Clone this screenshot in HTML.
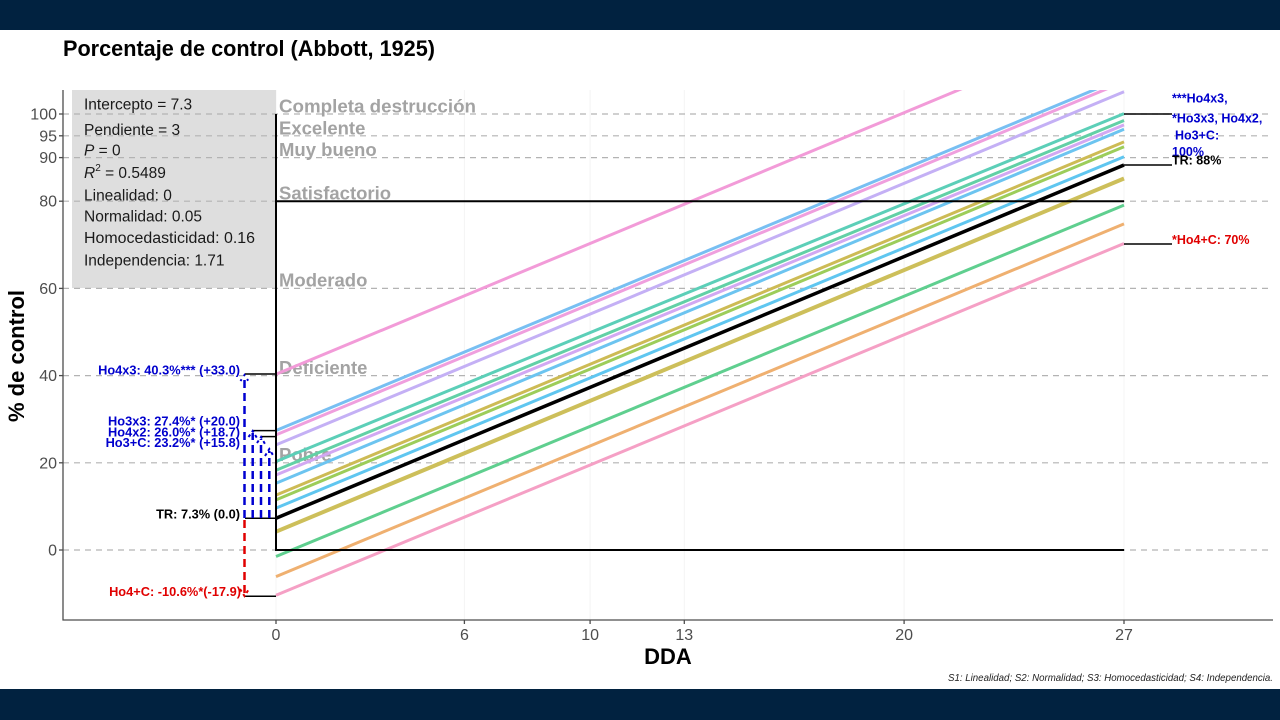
<!DOCTYPE html>
<html><head><meta charset="utf-8"><style>
html,body{margin:0;padding:0;background:#fff;}
svg{display:block;}
text{font-family:"Liberation Sans",Arial,sans-serif;}
</style></head><body>
<svg width="1280" height="720" viewBox="0 0 1280 720" xmlns="http://www.w3.org/2000/svg">
<defs><clipPath id="pc"><rect x="63" y="90" width="1210" height="530"/></clipPath></defs>
<rect x="0" y="0" width="1280" height="720" fill="#fff"/>
<rect x="0" y="0" width="1280" height="30" fill="#012240"/>
<rect x="0" y="689" width="1280" height="31" fill="#012240"/>

<text x="63" y="56" font-size="22.5" font-weight="bold" fill="#000" textLength="372" lengthAdjust="spacingAndGlyphs">Porcentaje de control (Abbott, 1925)</text>

<!-- faint vertical grid -->
<g stroke="#f4f4f4" stroke-width="1">
<line x1="276" y1="90" x2="276" y2="620"/><line x1="464.4" y1="90" x2="464.4" y2="620"/>
<line x1="590.1" y1="90" x2="590.1" y2="620"/><line x1="684.3" y1="90" x2="684.3" y2="620"/>
<line x1="904.1" y1="90" x2="904.1" y2="620"/><line x1="1124" y1="90" x2="1124" y2="620"/>
</g>

<!-- info box -->
<rect x="72" y="90" width="204" height="198" fill="#dedede"/>

<!-- dashed h lines -->
<g stroke="#b3b3b3" stroke-width="1.2" stroke-dasharray="6,5">
<line x1="63" y1="114" x2="1273" y2="114"/>
<line x1="63" y1="135.8" x2="1273" y2="135.8"/>
<line x1="63" y1="157.6" x2="1273" y2="157.6"/>
<line x1="63" y1="201.2" x2="1273" y2="201.2"/>
<line x1="63" y1="288.4" x2="1273" y2="288.4"/>
<line x1="63" y1="375.6" x2="1273" y2="375.6"/>
<line x1="63" y1="462.8" x2="1273" y2="462.8"/>
<line x1="63" y1="550" x2="1273" y2="550"/>
</g>

<!-- info text -->
<g font-size="15.5" fill="#1a1a1a">
<text x="84" y="109.5">Intercepto = 7.3</text>
<text x="84" y="135">Pendiente = 3</text>
<text x="84" y="155.5"><tspan font-style="italic">P</tspan> = 0</text>
<text x="84" y="178"><tspan font-style="italic">R</tspan><tspan font-size="10" dy="-7">2</tspan><tspan dy="7"> = 0.5489</tspan></text>
<text x="84" y="200.5">Linealidad: 0</text>
<text x="84" y="221.5">Normalidad: 0.05</text>
<text x="84" y="243" textLength="171" lengthAdjust="spacingAndGlyphs">Homocedasticidad: 0.16</text>
<text x="84" y="265.5">Independencia: 1.71</text>
</g>

<!-- category labels -->
<g font-size="18.5" font-weight="bold" fill="#a3a3a3">
<text x="279" y="112.5" textLength="197" lengthAdjust="spacingAndGlyphs">Completa destrucción</text>
<text x="279" y="134.3">Excelente</text>
<text x="279" y="155.8">Muy bueno</text>
<text x="279" y="199.4">Satisfactorio</text>
<text x="279" y="286.6">Moderado</text>
<text x="279" y="373.8">Deficiente</text>
<text x="279" y="461">Pobre</text>
</g>

<!-- series lines -->
<g clip-path="url(#pc)" stroke-width="3" fill="none" stroke-linecap="butt">
<line x1="276" y1="374.3" x2="1124" y2="21.1" stroke="#f29bd8"/>
<line x1="276" y1="430.5" x2="1124" y2="77.4" stroke="#78bff2"/>
<line x1="276" y1="434.9" x2="1124" y2="81.7" stroke="#ef9fde"/>
<line x1="276" y1="444.9" x2="1124" y2="91.8" stroke="#c4b0f5"/>
<line x1="276" y1="461.5" x2="1124" y2="113.6" stroke="#5ccfb8"/>
<line x1="276" y1="470.2" x2="1124" y2="120.5" stroke="#62d0a6"/>
<line x1="276" y1="475.0" x2="1124" y2="124.9" stroke="#d2a8f2"/>
<line x1="276" y1="483.3" x2="1124" y2="129.3" stroke="#6cc4f0"/>
<line x1="276" y1="495.1" x2="1124" y2="141.9" stroke="#cdbb55"/>
<line x1="276" y1="499.9" x2="1124" y2="146.7" stroke="#9ccd5a"/>
<line x1="276" y1="508.1" x2="1124" y2="156.7" stroke="#5fc6f0"/>
<line x1="276" y1="531.7" x2="1124" y2="178.5" stroke="#cdbf5a" stroke-width="4"/>
<line x1="276" y1="556.5" x2="1124" y2="205.1" stroke="#5fcf8f"/>
<line x1="276" y1="576.6" x2="1124" y2="223.9" stroke="#efb070"/>
<line x1="276" y1="595.3" x2="1124" y2="243.5" stroke="#f5a0c5"/>
<line x1="276" y1="518.2" x2="1124" y2="165.0" stroke="#000" stroke-width="3.5"/>
</g>

<!-- black structure lines -->
<g stroke="#000" stroke-width="2" fill="none">
<line x1="276" y1="114" x2="276" y2="550"/>
<line x1="276" y1="201.2" x2="1124" y2="201.2"/>
<line x1="275" y1="550" x2="1124" y2="550"/>
</g>
<g stroke="#000" stroke-width="1.5" fill="none">
<line x1="1124" y1="114" x2="1172" y2="114"/>
<line x1="1124" y1="165" x2="1172" y2="165"/>
<line x1="1124" y1="244" x2="1172" y2="244"/>
<line x1="245" y1="374" x2="276" y2="374"/>
<line x1="252.7" y1="430.6" x2="276" y2="430.6"/>
<line x1="261" y1="436.6" x2="276" y2="436.6"/>
<line x1="245" y1="518.2" x2="276" y2="518.2"/>
<line x1="245" y1="596.2" x2="276" y2="596.2"/>
</g>

<!-- arrows -->
<g stroke="#0000d0" stroke-width="2.5" fill="none" stroke-dasharray="8,5">
<line x1="244.5" y1="518" x2="244.5" y2="376"/>
<line x1="252.7" y1="518" x2="252.7" y2="433"/>
<line x1="261" y1="518" x2="261" y2="439"/>
<line x1="269.3" y1="518" x2="269.3" y2="451"/>
</g>
<g stroke="#0000d0" stroke-width="2" fill="none">
<polyline points="240.5,381 244.5,375 249,382" stroke-dasharray="2,4"/>
<polyline points="248.5,437 252.7,431 257,438" stroke-dasharray="3,3"/>
<polyline points="257,443 261,437 265,444" stroke-dasharray="3,3"/>
<polyline points="265,456 269.3,449 273.5,456" stroke-dasharray="3,3"/>
</g>
<line x1="244.5" y1="520" x2="244.5" y2="594" stroke="#e00000" stroke-width="2.5" stroke-dasharray="8,5"/>
<polyline points="240,589 244.5,596 249,589" stroke="#e00000" stroke-width="2" fill="none" stroke-dasharray="3,3"/>

<!-- left labels -->
<g font-size="12.8" font-weight="bold" text-anchor="end">
<text x="240" y="374.5" fill="#0000cd">Ho4x3: 40.3%*** (+33.0)</text>
<text x="240" y="425.5" fill="#0000cd">Ho3x3: 27.4%* (+20.0)</text>
<text x="240" y="436.3" fill="#0000cd">Ho4x2: 26.0%* (+18.7)</text>
<text x="240" y="447.2" fill="#0000cd">Ho3+C: 23.2%* (+15.8)</text>
<text x="240" y="518.5" fill="#000">TR: 7.3% (0.0)</text>
<text x="241" y="596" fill="#e00000">Ho4+C: -10.6%*(-17.9)</text>
</g>

<!-- right labels -->
<g font-size="12.5" font-weight="bold">
<text x="1172" y="102.5" fill="#0000cd">***Ho4x3,</text>
<text x="1172" y="122.5" fill="#0000cd">*Ho3x3, Ho4x2,</text>
<text x="1175" y="139.5" fill="#0000cd">Ho3+C:</text>
<text x="1172" y="156" fill="#0000cd">100%</text>
<text x="1172" y="164.5" fill="#000">TR: 88%</text>
<text x="1172" y="244" fill="#e00000">*Ho4+C: 70%</text>
</g>

<!-- axes -->
<g stroke="#4d4d4d" stroke-width="1.3" fill="none">
<line x1="63" y1="90" x2="63" y2="620.5"/>
<line x1="62.5" y1="620" x2="1273" y2="620"/>
<line x1="59" y1="114" x2="63" y2="114"/>
<line x1="59" y1="135.8" x2="63" y2="135.8"/>
<line x1="59" y1="157.6" x2="63" y2="157.6"/>
<line x1="59" y1="201.2" x2="63" y2="201.2"/>
<line x1="59" y1="288.4" x2="63" y2="288.4"/>
<line x1="59" y1="375.6" x2="63" y2="375.6"/>
<line x1="59" y1="462.8" x2="63" y2="462.8"/>
<line x1="59" y1="550" x2="63" y2="550"/>
<line x1="276" y1="620" x2="276" y2="624"/>
<line x1="464.4" y1="620" x2="464.4" y2="624"/>
<line x1="590.1" y1="620" x2="590.1" y2="624"/>
<line x1="684.3" y1="620" x2="684.3" y2="624"/>
<line x1="904.1" y1="620" x2="904.1" y2="624"/>
<line x1="1124" y1="620" x2="1124" y2="624"/>
</g>
<g font-size="16" fill="#4d4d4d" text-anchor="end">
<text x="57" y="119.5">100</text>
<text x="57" y="141.3">95</text>
<text x="57" y="163.1">90</text>
<text x="57" y="206.7">80</text>
<text x="57" y="293.9">60</text>
<text x="57" y="381.1">40</text>
<text x="57" y="468.3">20</text>
<text x="57" y="555.5">0</text>
</g>
<g font-size="16" fill="#4d4d4d" text-anchor="middle">
<text x="276" y="640">0</text>
<text x="464.4" y="640">6</text>
<text x="590.1" y="640">10</text>
<text x="684.3" y="640">13</text>
<text x="904.1" y="640">20</text>
<text x="1124" y="640">27</text>
</g>

<text x="668" y="664" font-size="22" font-weight="bold" text-anchor="middle" fill="#000">DDA</text>
<text transform="translate(24,356) rotate(-90)" font-size="22" font-weight="bold" text-anchor="middle" fill="#000">% de control</text>
<text x="1273" y="681" font-size="10.5" font-style="italic" text-anchor="end" fill="#222" textLength="325" lengthAdjust="spacingAndGlyphs">S1: Linealidad; S2: Normalidad; S3: Homocedasticidad; S4: Independencia.</text>
</svg>
</body></html>
